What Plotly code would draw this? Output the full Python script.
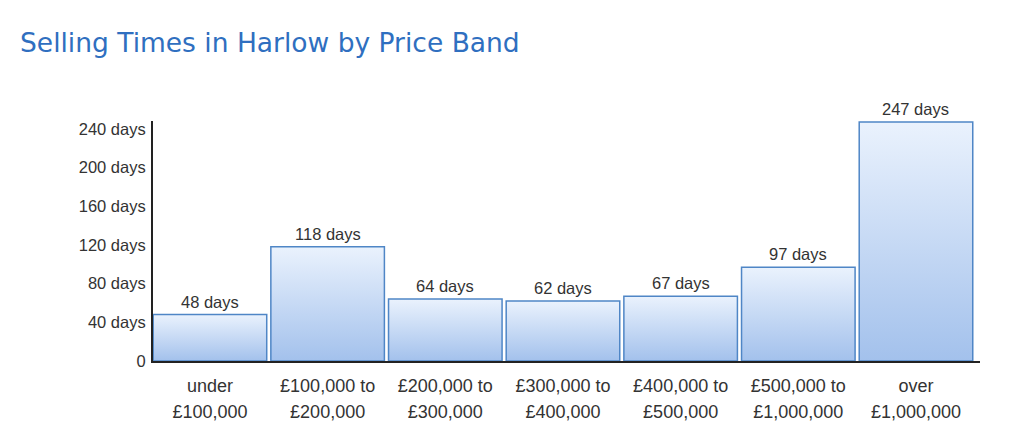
import plotly.graph_objects as go

categories = [["under", "£100,000"], ["£100,000 to", "£200,000"], ["£200,000 to", "£300,000"],
              ["£300,000 to", "£400,000"], ["£400,000 to", "£500,000"], ["£500,000 to", "£1,000,000"],
              ["over", "£1,000,000"]]
days = [48, 118, 64, 62, 67, 97, 247]
y_ticks = [0, 40, 80, 120, 160, 200, 240]
y_tick_labels = ["0", "40 days", "80 days", "120 days", "160 days", "200 days", "240 days"]

FONT = "Liberation Sans, Arial, sans-serif"
bar_w = 0.965
fig = go.Figure()
for i, v in enumerate(days):
    x0, x1 = i - bar_w / 2, i + bar_w / 2
    fig.add_trace(go.Scatter(
        x=[x0, x1, x1, x0, x0], y=[0, 0, v, v, 0],
        mode="lines", fill="toself",
        fillgradient=dict(type="vertical",
                          colorscale=[[0, "#a3c1ec"], [1, "#eaf2fd"]]),
        line=dict(color="#4f86c6", width=1.5),
        hoverinfo="skip", showlegend=False,
    ))

annotations = [
    dict(x=i, y=v, xref="x", yref="y", text=f"{v} days", showarrow=False,
         xanchor="center", yanchor="bottom", yshift=2,
         font=dict(family=FONT, size=16.5, color="#333333"))
    for i, v in enumerate(days)
]

tick_text = ["<br>".join(f"<span style='font-size:18px'>{p}</span>" for p in parts)
             for parts in categories]

W, H = 1010, 430
fig.update_layout(
    width=W, height=H,
    margin=dict(l=145, r=38, t=113, b=77),
    paper_bgcolor="white", plot_bgcolor="white",
    annotations=annotations,
    title=dict(text="Selling Times in Harlow by Price Band",
               x=12 / W, xanchor="left", y=1 - 35 / H, yanchor="middle",
               font=dict(family="DejaVu Sans, sans-serif", size=26.5, color="#2f6fc0")),
    xaxis=dict(range=[-0.484, 6.544], tickvals=list(range(len(categories))),
               ticktext=tick_text, showgrid=False, zeroline=False,
               showline=True, linecolor="#222222", linewidth=2, ticks="",
               ticklabelstandoff=4,
               tickfont=dict(family=FONT, size=20.5, color="#333333")),
    yaxis=dict(range=[0, 248], tickvals=y_ticks, ticktext=y_tick_labels,
               showgrid=False, zeroline=False, showline=True, linecolor="#222222",
               linewidth=2, ticks="", ticklabelstandoff=2,
               tickfont=dict(family=FONT, size=16.5, color="#333333")),
)
fig.write_html("out.html")
